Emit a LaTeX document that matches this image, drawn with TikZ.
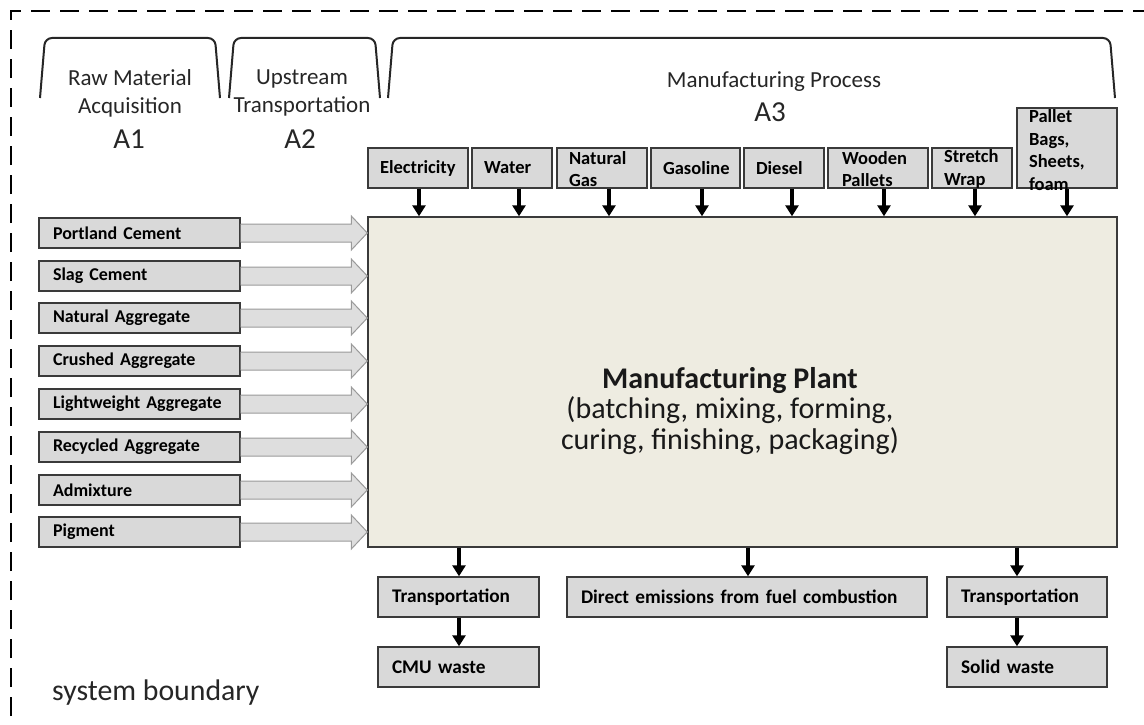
\documentclass[tikz,border=0pt]{standalone}
\usepackage{fontspec}
\setmainfont{Carlito}
\usetikzlibrary{calc,arrows.meta}
\definecolor{boxfill}{HTML}{D9D9D9}
\definecolor{boxline}{HTML}{3A3A3A}
\definecolor{plantfill}{HTML}{EEECE1}
\definecolor{arrfill}{HTML}{DEDEDE}
\definecolor{arrline}{HTML}{9A9A9A}
\begin{document}
\begin{tikzpicture}[x=1pt,y=-1pt,
  gbox/.style={draw=boxline, fill=boxfill, line width=1.4pt, inner sep=0pt},
  lbl/.style={font=\bfseries\fontsize{18.5}{22.5}\selectfont, align=left, inner sep=0pt},
  lblb/.style={font=\bfseries\fontsize{19.3}{23}\selectfont, align=left, inner sep=0pt},
  lbll/.style={font=\bfseries\fontsize{18}{22}\selectfont, align=left, inner sep=0pt},
  hdr/.style={font=\fontsize{23}{28}\selectfont, align=center, inner sep=0pt, text=black!85},
  alab/.style={font=\fontsize{29}{32}\selectfont, inner sep=0pt, text=black!85},
  darr/.style={line width=3.2pt, -{Triangle[width=13pt,length=11pt]}},
  barrow/.style={draw=arrline, fill=arrfill, line width=1pt, line join=miter},
  brk/.style={line width=2pt, draw=black!85, rounded corners=7pt},
  boundary/.style={line width=2pt, dash pattern=on 19pt off 10pt}
]
\useasboundingbox (0,0) rectangle (1144,725);

% system boundary
\draw[boundary] (11,745) -- (11,11) -- (1170,11);

% brackets
\draw[brk] (40,98) -- (45,38) -- (215,38) -- (220,98);
\draw[brk] (229,98) -- (234,38) -- (375,38) -- (380,98);
\draw[brk] (388,98) -- (393,38) -- (1110,38) -- (1115,98);

\node[hdr] (rawT) at (130,93) {Raw Material\\Acquisition};
\node[alab] (a1) at (129,139) {A1};
\node[hdr] (upT) at (302,93) {Upstream\\Transportation};
\node[alab] (a2) at (300,139) {A2};
\node[hdr] (mpT) at (774,82) {Manufacturing Process};
\node[alab] (a3) at (770,112) {A3};

% main plant
\node[draw=boxline, fill=plantfill, line width=1.4pt, minimum width=749pt, minimum height=330pt, inner sep=0pt] (main) at (742.5,382) {};
\node[font=\fontsize{30}{30.5}\selectfont, align=center, inner sep=0pt, text=black!90] (mainT) at (730,411)
  {\textbf{Manufacturing Plant}\\(batching, mixing, forming,\\curing, finishing, packaging)};

% top inputs
\node[gbox, minimum width=100pt, minimum height=40pt] (elec) at (418,168) {};
\node[gbox, minimum width=80pt, minimum height=40pt] (water) at (512,168) {};
\node[gbox, minimum width=90pt, minimum height=40pt] (ngas) at (602,168) {};
\node[gbox, minimum width=89pt, minimum height=40pt] (gasol) at (695.5,168) {};
\node[gbox, minimum width=80pt, minimum height=40pt] (diesel) at (784,168) {};
\node[gbox, minimum width=100pt, minimum height=40pt] (wood) at (878,168) {};
\node[gbox, minimum width=80pt, minimum height=40pt] (wrap) at (972,168) {};
\node[gbox, minimum width=100pt, minimum height=80pt] (pallet) at (1067,148) {};

\node[lbl, text width=76pt] (elecT) at (elec) {Electricity};
\node[lbl, text width=56pt] (waterT) at (water) {Water};
\node[lbl, text width=66pt] (ngasT) at ($(ngas)+(0,1)$) {Natural\\Gas};
\node[lbl, text width=65pt] (gasolT) at (gasol) {Gasoline};
\node[lbl, text width=56pt] (dieselT) at (diesel) {Diesel};
\node[lbl, text width=74pt] (woodT) at ($(wood)+(1,1)$) {Wooden\\Pallets};
\node[lbl, text width=56pt] (wrapT) at ($(wrap)+(0,1)$) {Stretch\\Wrap};
\node[lbl, text width=76pt] (palletT) at (1067,150) {Pallet\\Bags,\\Sheets,\\foam};

\draw[darr] (elec.south -| 419,0) -- (main.north -| 419,0);
\draw[darr] (water.south -| 519,0) -- (main.north -| 519,0);
\draw[darr] (ngas.south -| 609,0) -- (main.north -| 609,0);
\draw[darr] (gasol.south -| 702,0) -- (main.north -| 702,0);
\draw[darr] (diesel.south -| 792,0) -- (main.north -| 792,0);
\draw[darr] (wood.south -| 884,0) -- (main.north -| 884,0);
\draw[darr] (wrap.south -| 975,0) -- (main.north -| 975,0);
\draw[darr] (pallet.south -| 1067,0) -- (main.north -| 1067,0);

% left raw materials
\foreach \nm/\yy/\tx in {pc/233/Portland Cement, sc/276/Slag Cement, na/318/Natural Aggregate,
  ca/361/Crushed Aggregate, la/404/Lightweight Aggregate, ra/447/Recycled Aggregate,
  ad/490/Admixture, pg/532/Pigment}{
  \node[gbox, minimum width=201pt, minimum height=30pt] (\nm) at (139.5,\yy) {};
  \node[lbll, text width=173pt] (\nm T) at (\nm) {\tx};
  \draw[barrow] ($(\nm.east)+(0,-9)$) -- ($(main.west |- \nm.east)+(-16,-9)$)
     -- ($(main.west |- \nm.east)+(-16,-17)$) -- (main.west |- \nm.east)
     -- ($(main.west |- \nm.east)+(-16,17)$) -- ($(main.west |- \nm.east)+(-16,9)$)
     -- ($(\nm.east)+(0,9)$);
}

% outputs
\node[gbox, minimum width=161pt, minimum height=40pt] (tr1) at (458.5,597) {};
\node[gbox, minimum width=360pt, minimum height=40pt] (dir) at (747,597) {};
\node[gbox, minimum width=160pt, minimum height=40pt] (tr2) at (1027,597) {};
\node[gbox, minimum width=161pt, minimum height=40pt] (cmu) at (458.5,667) {};
\node[gbox, minimum width=160pt, minimum height=40pt] (sol) at (1027,667) {};

\node[lblb, text width=133pt] (tr1T) at (tr1) {Transportation};
\node[lblb, text width=332pt] (dirT) at (dir) {Direct emissions from fuel combustion};
\node[lblb, text width=132pt] (tr2T) at (tr2) {Transportation};
\node[lblb, text width=133pt] (cmuT) at (cmu) {CMU waste};
\node[lblb, text width=132pt] (solT) at (sol) {Solid waste};

\draw[darr] (main.south -| 459,0) -- (tr1.north -| 459,0);
\draw[darr] (main.south -| 748,0) -- (dir.north -| 748,0);
\draw[darr] (main.south -| 1017,0) -- (tr2.north -| 1017,0);
\draw[darr] (tr1.south -| 459,0) -- (cmu.north -| 459,0);
\draw[darr] (tr2.south -| 1017,0) -- (sol.north -| 1017,0);

\node[anchor=west, font=\fontsize{29.8}{34}\selectfont, inner sep=0pt, text=black!85] (sysb) at (52,693) {system boundary};
\end{tikzpicture}
\end{document}
